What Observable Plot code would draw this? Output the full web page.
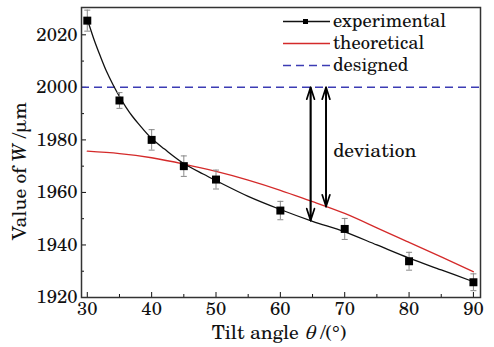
<!DOCTYPE html>
<html><head><meta charset="utf-8">
<script src="https://cdn.jsdelivr.net/npm/d3@7"></script>
<script src="https://cdn.jsdelivr.net/npm/@observablehq/plot@0.6"></script>
<style>
html,body{margin:0;padding:0;background:#fff;}
#chart svg{display:block;}
#chart svg text, #chart svg tspan{font-family:'TeX Gyre Schola','DejaVu Serif',serif !important;}
</style></head>
<body><div id="chart"></div>
<script>
// Experimental data
const expAngle = [30, 35, 40, 45, 50, 60, 70, 80, 90];
const expW     = [2025.4, 1995, 1980, 1970, 1964.9, 1953.1, 1946.1, 1933.8, 1925.8];
const expErr   = [4, 3, 3.9, 3.9, 3.6, 3.5, 4, 3.4, 3.2];
const fitAngle = [30, 31, 32, 33, 34, 35, 36, 37, 38, 40, 42, 45, 48, 50, 55, 60, 65, 70, 75, 80, 85, 90];
const fitW     = [2026, 2018.5, 2012, 2006, 2001, 1996.5, 1992.5, 1989, 1986, 1980.5, 1976.5, 1971, 1967, 1964.5, 1958.5, 1953.5, 1949, 1945, 1940, 1935, 1930.5, 1926];
// Theoretical curve
const theoAngle = [30, 35, 40, 45, 50, 55, 60, 65, 70, 75, 80, 85, 90];
const theoW     = [1975.7, 1974.8, 1973.2, 1970.8, 1968, 1964.7, 1960.8, 1956.5, 1952, 1946.5, 1941, 1935.5, 1929.8];
// Designed value
const designed = 2000;
// Deviation arrows
const arrowAngle = [64.7, 67.1];
const arrowLow   = [1949.3, 1954.6];
// Ticks
const xMajor = [30, 40, 50, 60, 70, 80, 90];
const xMinor = [35, 45, 55, 65, 75, 85];
const yMajor = [1920, 1940, 1960, 1980, 2000, 2020];
const yMinor = [1930, 1950, 1970, 1990, 2010];
// Labels
const legendLabels = ["experimental", "theoretical", "designed"];
const annotation = [{x: 68.2, y: 1976, text: "deviation"}];

const exp = expAngle.map((x, i) => ({x, y: expW[i], lo: expW[i] - expErr[i], hi: expW[i] + expErr[i]}));
const fit = fitAngle.map((x, i) => ({x, y: fitW[i]}));
const theo = theoAngle.map((x, i) => ({x, y: theoW[i]}));
const arrows = arrowAngle.map((x, i) => ({x, lo: arrowLow[i], hi: designed}));

const capSymbol = {draw(ctx) { ctx.moveTo(-3, 0); ctx.lineTo(3, 0); }};
const font = "'TeX Gyre Schola', 'DejaVu Serif', serif";
const red = "#d42a2a", blue = "#3c3cb4";
const fsTick = 18.5, fsText = 18.5, fsTitle = 19.5;

const plot = Plot.plot({
  width: 494, height: 347,
  marginLeft: 81, marginRight: 14, marginTop: 7, marginBottom: 50,
  style: {fontFamily: font, fontSize: fsTick + "px", background: "#fff", color: "#111"},
  x: {domain: [29.1, 91.1]},
  y: {domain: [1920, 2030.4]},
  marks: [
    Plot.axisX({ticks: xMajor, tickSize: -5, tickPadding: 9, label: null, fontSize: fsTick, tickFormat: d => String(d)}),
    Plot.axisX({ticks: xMinor, tickSize: -3, tickFormat: () => "", label: null}),
    Plot.axisY({ticks: yMajor, tickSize: -5, tickPadding: 9, label: null, fontSize: fsTick, tickFormat: d => String(d)}),
    Plot.axisY({ticks: yMinor, tickSize: -3, tickFormat: () => "", label: null}),
    Plot.ruleY([designed], {stroke: blue, strokeWidth: 1.5, strokeDasharray: "8,5"}),
    Plot.line(theo, {x: "x", y: "y", stroke: red, strokeWidth: 1.3, curve: "natural"}),
    Plot.line(fit, {x: "x", y: "y", stroke: "#111", strokeWidth: 1.3, curve: "catmull-rom"}),
    Plot.ruleX(exp, {x: "x", y1: "lo", y2: "hi", stroke: "#888", strokeWidth: 1}),
    Plot.dot(exp, {x: "x", y: "lo", symbol: capSymbol, stroke: "#888", strokeWidth: 1}),
    Plot.dot(exp, {x: "x", y: "hi", symbol: capSymbol, stroke: "#888", strokeWidth: 1}),
    Plot.dot(exp, {x: "x", y: "y", symbol: "square", fill: "#000", r: 4.5}),
    Plot.arrow(arrows, {x1: "x", x2: "x", y1: "lo", y2: "hi", stroke: "#000", strokeWidth: 1.7, headLength: 11, headAngle: 36}),
    Plot.arrow(arrows, {x1: "x", x2: "x", y1: "hi", y2: "lo", stroke: "#000", strokeWidth: 1.7, headLength: 11, headAngle: 36}),
    Plot.text(annotation, {x: "x", y: "y", text: "text", textAnchor: "start", fontSize: 19.5, fill: "#111"}),
    Plot.frame({stroke: "#333", strokeWidth: 1.5})
  ]
});
document.getElementById("chart").appendChild(plot);

// Legend and axis titles
const svg = d3.select(plot);
const lg = svg.append("g").attr("font-family", font).attr("font-size", fsText).attr("fill", "#111").attr("text-anchor", "start");
const rows = [21.5, 43.5, 65.5];
lg.append("line").attr("x1", 283).attr("x2", 330).attr("y1", rows[0]).attr("y2", rows[0]).attr("stroke", "#111").attr("stroke-width", 1.3);
lg.append("rect").attr("x", 303).attr("y", rows[0] - 2.5).attr("width", 5).attr("height", 5).attr("fill", "#000");
lg.append("line").attr("x1", 283).attr("x2", 330).attr("y1", rows[1]).attr("y2", rows[1]).attr("stroke", red).attr("stroke-width", 1.3);
lg.append("line").attr("x1", 283).attr("x2", 330).attr("y1", rows[2]).attr("y2", rows[2]).attr("stroke", blue).attr("stroke-width", 1.5).attr("stroke-dasharray", "8,5");
legendLabels.forEach((t, i) => lg.append("text").attr("x", 333).attr("y", rows[i]).attr("dy", "0.3em").text(t));

const xl = svg.append("text").attr("font-family", font).attr("font-size", fsTitle).attr("fill", "#111")
  .attr("x", 279).attr("y", 339).attr("text-anchor", "middle");
xl.append("tspan").text("Tilt angle ");
xl.append("tspan").attr("font-style", "italic").text("θ");
xl.append("tspan").text(" /(°)");

const yl = svg.append("text").attr("font-family", font).attr("font-size", fsTitle).attr("fill", "#111")
  .attr("transform", "translate(26,171) rotate(-90)").attr("text-anchor", "middle");
yl.append("tspan").text("Value of ");
yl.append("tspan").attr("font-style", "italic").text("W");
yl.append("tspan").text(" /μm");
</script>
</body></html>
